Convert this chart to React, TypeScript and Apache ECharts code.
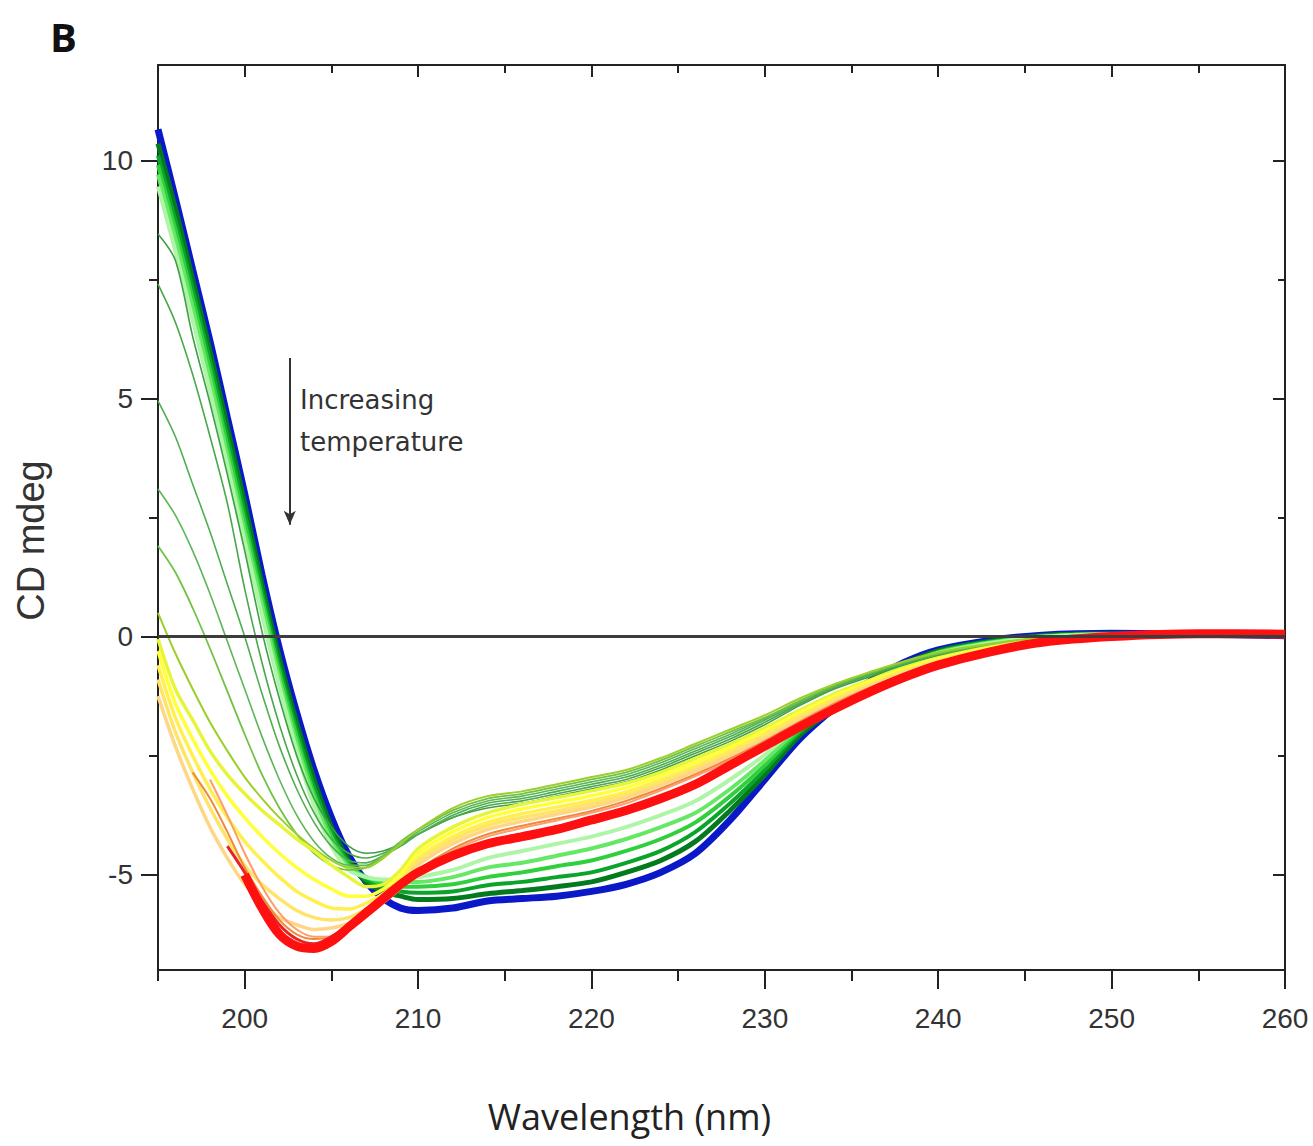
import React, { useEffect, useRef } from "react";
import * as echarts from "echarts";

// Wavelength grid (nm)
const W = [195,196,197,198,199,200,201,202,203,204,205,206,207,208,209,210,212,214,216,218,220,222,224,226,228,230,232,234,236,238,240,243,246,250,255,260];

// CD (mdeg) per curve, lowest temperature first
const blue = [10.65,9.2,7.7,6.2,4.6,3.0,1.3,-0.25,-1.6,-2.8,-3.8,-4.6,-5.15,-5.5,-5.7,-5.75,-5.7,-5.55,-5.5,-5.45,-5.35,-5.2,-4.95,-4.55,-3.85,-3.0,-2.15,-1.5,-0.95,-0.55,-0.28,-0.08,0.03,0.07,0.05,0.02];
const g2 = [10.35,9.0,7.5,6.0,4.4,2.8,1.1,-0.45,-1.8,-3.0,-4.0,-4.7,-5.15,-5.35,-5.45,-5.52,-5.5,-5.4,-5.33,-5.25,-5.15,-4.95,-4.7,-4.3,-3.65,-2.9,-2.08,-1.5,-0.97,-0.58,-0.3,-0.1,0.02,0.06,0.05,0.02];
const g3 = [10.1,8.75,7.3,5.8,4.2,2.6,0.95,-0.6,-1.95,-3.15,-4.1,-4.75,-5.1,-5.25,-5.35,-5.38,-5.35,-5.22,-5.15,-5.05,-4.95,-4.75,-4.5,-4.1,-3.5,-2.8,-2.02,-1.47,-0.98,-0.6,-0.32,-0.11,0.01,0.05,0.05,0.02];
const g4 = [9.9,8.55,7.1,5.6,4.0,2.4,0.8,-0.75,-2.1,-3.3,-4.2,-4.8,-5.05,-5.2,-5.25,-5.25,-5.2,-5.05,-4.95,-4.82,-4.7,-4.5,-4.25,-3.9,-3.35,-2.7,-1.97,-1.45,-0.98,-0.61,-0.33,-0.12,0.0,0.05,0.05,0.02];
const g5 = [9.7,8.35,6.9,5.4,3.8,2.2,0.65,-0.9,-2.25,-3.4,-4.3,-4.85,-5.05,-5.12,-5.15,-5.15,-5.05,-4.85,-4.75,-4.6,-4.45,-4.25,-4.0,-3.7,-3.2,-2.6,-1.92,-1.43,-0.98,-0.62,-0.34,-0.13,0.0,0.05,0.05,0.02];
const g6 = [9.45,8.1,6.65,5.15,3.6,2.0,0.45,-1.05,-2.4,-3.55,-4.4,-4.9,-5.05,-5.1,-5.1,-5.05,-4.9,-4.65,-4.5,-4.35,-4.2,-4.0,-3.75,-3.45,-3.0,-2.48,-1.87,-1.4,-0.97,-0.62,-0.35,-0.14,-0.01,0.05,0.05,0.02];
const t7 = [8.45,7.9,6.3,4.9,3.4,1.8,0.1,-1.3,-2.5,-3.4,-4.0,-4.4,-4.55,-4.5,-4.35,-4.15,-3.8,-3.6,-3.5,-3.35,-3.2,-3.05,-2.8,-2.5,-2.2,-1.85,-1.45,-1.1,-0.85,-0.6,-0.4,-0.2,-0.05,0.02,0.05,0.02];
const t8 = [7.4,6.6,5.5,4.2,2.8,1.0,-0.55,-1.85,-2.9,-3.7,-4.25,-4.55,-4.65,-4.55,-4.35,-4.15,-3.8,-3.55,-3.45,-3.3,-3.15,-3.0,-2.75,-2.45,-2.15,-1.8,-1.42,-1.08,-0.82,-0.58,-0.38,-0.18,-0.04,0.03,0.05,0.03];
const t9 = [4.95,4.2,3.2,2.2,1.1,0.0,-1.2,-2.3,-3.2,-3.9,-4.4,-4.7,-4.75,-4.6,-4.4,-4.15,-3.75,-3.5,-3.4,-3.25,-3.1,-2.95,-2.7,-2.4,-2.1,-1.75,-1.4,-1.05,-0.8,-0.56,-0.37,-0.17,-0.04,0.03,0.05,0.03];
const t10 = [3.1,2.55,1.8,0.9,-0.1,-1.1,-2.1,-3.0,-3.75,-4.3,-4.65,-4.8,-4.8,-4.6,-4.35,-4.1,-3.7,-3.45,-3.35,-3.2,-3.05,-2.9,-2.65,-2.35,-2.05,-1.72,-1.37,-1.03,-0.78,-0.55,-0.36,-0.16,-0.03,0.03,0.05,0.03];
const t11 = [1.9,1.35,0.6,-0.25,-1.15,-2.05,-2.9,-3.6,-4.15,-4.55,-4.8,-4.9,-4.85,-4.6,-4.3,-4.05,-3.65,-3.4,-3.3,-3.15,-3.0,-2.85,-2.6,-2.3,-2.0,-1.7,-1.35,-1.02,-0.77,-0.54,-0.35,-0.16,-0.03,0.03,0.05,0.03];
const t12 = [0.5,-0.35,-1.1,-1.8,-2.4,-2.95,-3.4,-3.8,-4.15,-4.45,-4.7,-4.85,-4.85,-4.65,-4.35,-4.05,-3.6,-3.35,-3.25,-3.1,-2.95,-2.8,-2.55,-2.25,-1.95,-1.65,-1.3,-1.0,-0.75,-0.52,-0.33,-0.15,-0.03,0.03,0.05,0.03];
const y13 = [-0.05,-1.1,-1.75,-2.4,-2.9,-3.3,-3.65,-3.95,-4.25,-4.5,-4.8,-5.05,-5.25,-5.2,-4.9,-4.45,-4.0,-3.7,-3.52,-3.38,-3.24,-3.08,-2.85,-2.56,-2.26,-1.92,-1.55,-1.2,-0.92,-0.66,-0.45,-0.22,-0.07,0.02,0.05,0.03];
const y14 = [-0.3,-1.4,-2.15,-2.8,-3.35,-3.8,-4.2,-4.55,-4.85,-5.1,-5.3,-5.45,-5.45,-5.3,-5.0,-4.55,-4.1,-3.8,-3.62,-3.48,-3.34,-3.17,-2.93,-2.64,-2.33,-1.98,-1.6,-1.25,-0.95,-0.69,-0.47,-0.24,-0.08,0.02,0.05,0.03];
const y15 = [-0.6,-1.7,-2.5,-3.2,-3.8,-4.3,-4.7,-5.05,-5.35,-5.55,-5.7,-5.72,-5.6,-5.4,-5.1,-4.65,-4.2,-3.9,-3.72,-3.58,-3.44,-3.26,-3.01,-2.72,-2.4,-2.04,-1.66,-1.3,-1.0,-0.72,-0.5,-0.26,-0.09,0.01,0.05,0.03];
const y16 = [-0.9,-2.0,-2.85,-3.6,-4.25,-4.8,-5.2,-5.5,-5.75,-5.9,-5.95,-5.9,-5.72,-5.47,-5.17,-4.72,-4.27,-3.97,-3.8,-3.66,-3.51,-3.32,-3.07,-2.77,-2.45,-2.09,-1.71,-1.34,-1.03,-0.75,-0.52,-0.27,-0.09,0.01,0.05,0.03];
const y17 = [-1.25,-2.3,-3.2,-4.0,-4.65,-5.2,-5.6,-5.9,-6.05,-6.15,-6.12,-6.02,-5.82,-5.57,-5.25,-4.8,-4.35,-4.05,-3.88,-3.73,-3.58,-3.38,-3.12,-2.82,-2.5,-2.14,-1.76,-1.38,-1.06,-0.78,-0.54,-0.28,-0.1,0.0,0.05,0.03];
const o18 = [null,null,-2.85,-3.4,-4.1,-4.85,-5.45,-5.95,-6.25,-6.35,-6.3,-6.1,-5.85,-5.55,-5.25,-4.9,-4.45,-4.15,-3.97,-3.82,-3.66,-3.45,-3.19,-2.89,-2.56,-2.19,-1.79,-1.41,-1.08,-0.8,-0.56,-0.3,-0.1,0.0,0.05,0.03];
const o19 = [null,null,null,-3.0,-3.75,-4.55,-5.25,-5.8,-6.15,-6.3,-6.3,-6.15,-5.9,-5.6,-5.3,-4.95,-4.5,-4.2,-4.02,-3.86,-3.7,-3.5,-3.23,-2.93,-2.6,-2.22,-1.82,-1.43,-1.1,-0.81,-0.57,-0.31,-0.11,0.0,0.05,0.03];
const red2 = [null,null,null,null,-4.4,-4.95,-5.55,-6.05,-6.35,-6.45,-6.3,-6.05,-5.75,-5.45,-5.17,-4.92,-4.56,-4.3,-4.15,-3.99,-3.8,-3.6,-3.35,-3.05,-2.66,-2.27,-1.87,-1.5,-1.15,-0.85,-0.59,-0.31,-0.11,0.0,0.06,0.05];
const red = [null,null,null,null,null,-5.0,-5.7,-6.25,-6.5,-6.55,-6.4,-6.1,-5.8,-5.5,-5.2,-4.95,-4.6,-4.35,-4.2,-4.05,-3.85,-3.65,-3.4,-3.1,-2.7,-2.3,-1.9,-1.52,-1.17,-0.86,-0.6,-0.32,-0.12,0.0,0.06,0.05];

// Axis tick values
const xMajor = [200, 210, 220, 230, 240, 250, 260];
const xMinor = [195, 205, 215, 225, 235, 245, 255];
const yMajor = [-5, 0, 5, 10];
const yMinor = [-2.5, 2.5, 7.5];

const curves = [
  { name: "c1", v: blue, color: "#0a18c8", w: 7 },
  { name: "c2", v: g2, color: "#037a1e", w: 5 },
  { name: "c3", v: g3, color: "#0aa42a", w: 4 },
  { name: "c4", v: g4, color: "#2fd03c", w: 4 },
  { name: "c5", v: g5, color: "#66e866", w: 4 },
  { name: "c6", v: g6, color: "#aef5a8", w: 4 },
  { name: "c7", v: t7, color: "#3f9f45", w: 1.6 },
  { name: "c8", v: t8, color: "#48a84a", w: 1.6 },
  { name: "c9", v: t9, color: "#50ae50", w: 1.6 },
  { name: "c10", v: t10, color: "#5cb656", w: 1.6 },
  { name: "c11", v: t11, color: "#70c244", w: 1.8 },
  { name: "c12", v: t12, color: "#9ccf2a", w: 2 },
  { name: "c13", v: y13, color: "#e6f53a", w: 3.5 },
  { name: "c14", v: y14, color: "#ffff3a", w: 3.5 },
  { name: "c15", v: y15, color: "#fff050", w: 3.5 },
  { name: "c16", v: y16, color: "#ffe46a", w: 3.5 },
  { name: "c17", v: y17, color: "#ffd685", w: 3.5 },
  { name: "c18", v: o18, color: "#ef8a3a", w: 2 },
  { name: "c19", v: o19, color: "#ff9c6a", w: 2 },
  { name: "c20", v: red2, color: "#e82222", w: 3 },
  { name: "c21", v: red, color: "#ff1010", w: 9 },
];

const AX = "#222";
const TXT = "#333";

export default function App() {
  const ref = useRef<HTMLDivElement>(null);
  useEffect(() => {
    if (!ref.current) return;
    const chart = echarts.init(ref.current, undefined, { renderer: "svg" });
    const baseX = { type: "value", min: 195, max: 260, splitLine: { show: false }, gridIndex: 0 };
    const baseY = { type: "value", min: -7, max: 12, splitLine: { show: false }, gridIndex: 0 };
    const line = (show: boolean) => ({ show, onZero: false, lineStyle: { color: AX, width: 2 } });
    const series: any[] = curves.map((c) => ({
      type: "line",
      name: c.name,
      xAxisIndex: 0,
      yAxisIndex: 0,
      showSymbol: false,
      smooth: 0.3,
      silent: true,
      lineStyle: { color: c.color, width: c.w },
      itemStyle: { color: c.color },
      data: W.map((w, i) => [w, c.v[i]]).filter((p) => p[1] !== null),
    }));
    series.unshift({
      type: "line",
      name: "ref",
      xAxisIndex: 0,
      yAxisIndex: 0,
      data: [],
      silent: true,
      markLine: {
        silent: true,
        symbol: ["none", "none"],
        label: { show: false },
        lineStyle: { color: "#333", width: 2, type: "solid" },
        data: [
          [{ coord: [195, 0], lineStyle: { width: 3, color: "#3c3c3c" } }, { coord: [260, 0] }],
          [
            { coord: [202.6, 5.85], symbol: "none" },
            { coord: [202.6, 2.35], symbol: "arrow", symbolSize: [9, 14] },
          ],
        ],
      },
    });
    chart.setOption({
      animation: false,
      backgroundColor: "#fff",
      grid: { left: 158, top: 65, width: 1127, height: 905, containLabel: false },
      xAxis: [
        {
          ...baseX,
          position: "bottom",
          axisLine: line(true),
          axisTick: { show: true, customValues: xMajor, length: 19, inside: false, lineStyle: { color: AX, width: 2 } },
          axisLabel: { customValues: xMajor, fontSize: 28, margin: 34, color: TXT, fontFamily: "Liberation Sans" },
          name: "Wavelength (nm)",
          nameLocation: "middle",
          nameGap: 128,
          nameTextStyle: { fontSize: 36, color: "#222", fontFamily: "Open Sans", padding: [0, 184, 0, 0] },
        },
        {
          ...baseX,
          position: "bottom",
          axisLine: line(false),
          axisTick: { show: true, customValues: xMinor, length: 11, inside: false, lineStyle: { color: AX, width: 2 } },
          axisLabel: { show: false },
        },
        {
          ...baseX,
          position: "top",
          axisLine: line(true),
          axisTick: { show: true, customValues: xMajor.slice(0, 6), length: 12, inside: true, lineStyle: { color: AX, width: 2 } },
          axisLabel: { show: false },
        },
        {
          ...baseX,
          position: "top",
          axisLine: line(false),
          axisTick: { show: true, customValues: xMinor.slice(1), length: 8, inside: true, lineStyle: { color: AX, width: 2 } },
          axisLabel: { show: false },
        },
      ],
      yAxis: [
        {
          ...baseY,
          position: "left",
          axisLine: line(true),
          axisTick: { show: true, customValues: yMajor, length: 17, inside: false, lineStyle: { color: AX, width: 2 } },
          axisLabel: { customValues: yMajor, fontSize: 28, margin: 25, color: TXT, fontFamily: "Liberation Sans" },
          name: "CD mdeg",
          nameLocation: "middle",
          nameGap: 108,
          nameTextStyle: { fontSize: 38, color: TXT, fontFamily: "Liberation Sans", padding: [0, 46, 0, 0] },
        },
        {
          ...baseY,
          position: "left",
          axisLine: line(false),
          axisTick: { show: true, customValues: yMinor, length: 9, inside: false, lineStyle: { color: AX, width: 2 } },
          axisLabel: { show: false },
        },
        {
          ...baseY,
          position: "right",
          axisLine: line(true),
          axisTick: { show: true, customValues: yMajor, length: 12, inside: true, lineStyle: { color: AX, width: 2 } },
          axisLabel: { show: false },
        },
        {
          ...baseY,
          position: "right",
          axisLine: line(false),
          axisTick: { show: true, customValues: yMinor, length: 7, inside: true, lineStyle: { color: AX, width: 2 } },
          axisLabel: { show: false },
        },
      ],
      graphic: [
        { type: "text", left: 50, top: 16, style: { text: "B", font: 'bold 40px "Open Sans"', fill: "#111" } },
        { type: "text", left: 300, top: 387, style: { text: "Increasing", font: '26px "DejaVu Sans"', fill: TXT } },
        { type: "text", left: 300, top: 429, style: { text: "temperature", font: '26px "DejaVu Sans"', fill: TXT } },
      ],
      series,
    });
    return () => chart.dispose();
  }, []);
  return (
    <div
      ref={ref}
      style={{ position: "fixed", left: 0, top: 0, width: 1313, height: 1146, background: "#fff" }}
    />
  );
}
